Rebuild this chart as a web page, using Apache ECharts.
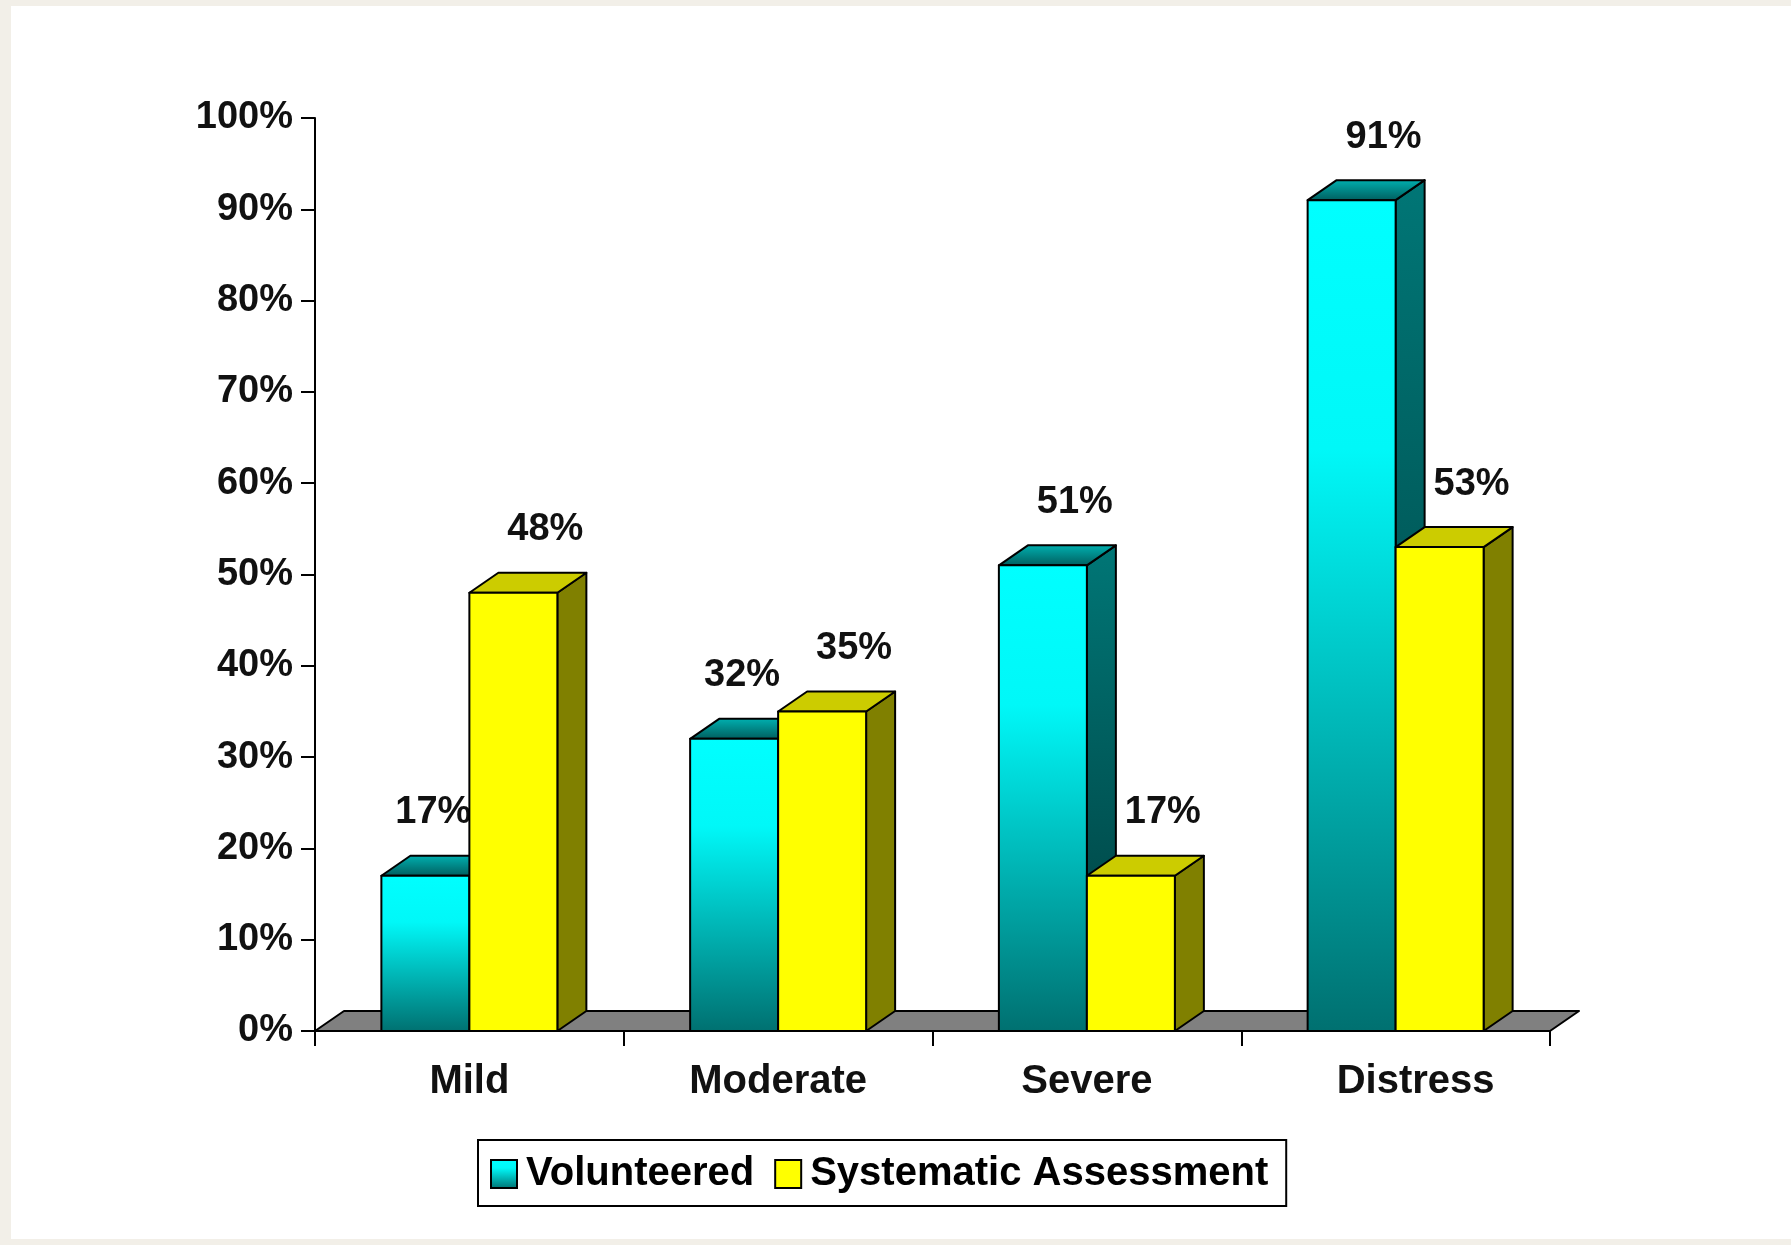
<!DOCTYPE html>
<html>
<head>
<meta charset="utf-8">
<title>Volunteered vs Systematic Assessment</title>
<script src="https://cdn.jsdelivr.net/npm/echarts@6/dist/echarts.min.js"></script>
<style>
  html, body { margin: 0; padding: 0; background: #f2efe8; }
  #chart { width: 1791px; height: 1245px; }
</style>
</head>
<body>
<div id="chart"></div>
<script>
// Symptom categories and the share of patients in each, by reporting method
const categories = ['Mild', 'Moderate', 'Severe', 'Distress'];
const volunteered = [17, 32, 51, 91];
const systematic = [48, 35, 17, 53];
const seriesNames = ['Volunteered', 'Systematic Assessment'];

// 3D bar geometry (pixels / fraction of category band)
const BAR_RATIO = 0.285;
const DX = 29;
const DY = 20;
const FONT = '"Liberation Sans", Arial, sans-serif';

const grad = (stops) => new echarts.graphic.LinearGradient(0, 0, 0, 1,
  stops.map((c) => ({ offset: c[0], color: c[1] })));

const palettes = [
  {
    front: () => grad([[0, '#00ffff'], [0.3, '#00f8f8'], [1, '#007070']]),
    top: () => grad([[0, '#00b2b2'], [1, '#005c5c']]),
    side: () => grad([[0, '#007676'], [1, '#003c3c']])
  },
  {
    front: () => '#ffff00',
    top: () => '#cccc00',
    side: () => '#808000'
  }
];

const EDGE = { stroke: '#000', lineWidth: 2, lineJoin: 'round' };

function barRenderer(slot, ownValues, otherValues) {
  const pal = palettes[slot];
  return function (params, api) {
    const idx = api.value(0);
    const val = api.value(1);
    const base = api.coord([idx, 0]);
    const tip = api.coord([idx, val]);
    const band = api.size([1, 0])[0];
    const w = band * BAR_RATIO;
    const x0 = slot === 0 ? base[0] - w : base[0];
    const x1 = x0 + w;
    const yb = base[1];
    const yt = tip[1];

    // value label sits above the top face; slides left when the neighbouring bar is taller
    let lx = (x0 + x1) / 2 + 32;
    if (slot === 0 && otherValues[idx] > ownValues[idx]) lx = x1 - 36;
    const ly = yt - DY - 43;

    return {
      type: 'group',
      children: [
        {
          type: 'polygon',
          shape: { points: [[x1, yt], [x1 + DX, yt - DY], [x1 + DX, yb - DY], [x1, yb]] },
          style: Object.assign({ fill: pal.side() }, EDGE)
        },
        {
          type: 'polygon',
          shape: { points: [[x0, yt], [x0 + DX, yt - DY], [x1 + DX, yt - DY], [x1, yt]] },
          style: Object.assign({ fill: pal.top() }, EDGE)
        },
        {
          type: 'rect',
          shape: { x: x0, y: yt, width: w, height: yb - yt },
          style: Object.assign({ fill: pal.front() }, EDGE)
        },
        {
          type: 'text',
          z2: 50,
          style: {
            text: val + '%',
            x: lx,
            y: ly,
            align: 'center',
            verticalAlign: 'middle',
            fill: '#111',
            font: 'bold 38px ' + FONT
          }
        }
      ]
    };
  };
}

// grey floor under the bars, spanning the whole category axis
function floorRenderer(params, api) {
  const cs = params.coordSys;
  const yb = cs.y + cs.height;
  const xl = cs.x;
  const xr = cs.x + cs.width;
  return {
    type: 'polygon',
    shape: { points: [[xl, yb], [xl + DX, yb - DY], [xr + DX, yb - DY], [xr, yb]] },
    style: Object.assign({ fill: '#808080' }, EDGE)
  };
}

// the last category name sits a little right of its band centre
const categoryData = categories.map((name, i) =>
  i === categories.length - 1 ? { value: name, textStyle: { padding: [0, 0, 0, 40] } } : name);

const chart = echarts.init(document.getElementById('chart'), null, { renderer: 'canvas' });

chart.setOption({
  animation: false,
  backgroundColor: '#f2efe8',
  graphic: [{
    type: 'rect',
    z: -10,
    silent: true,
    shape: { x: 11, y: 6, width: 1780, height: 1233 },
    style: { fill: '#ffffff' }
  }],
  grid: { left: 315, right: 241, top: 118, bottom: 214 },
  legend: {
    data: seriesNames,
    left: 478,
    top: 1140,
    orient: 'horizontal',
    backgroundColor: '#ffffff',
    borderColor: '#000',
    borderWidth: 2,
    borderRadius: 0,
    padding: [14, 18, 12, 12],
    itemGap: 20,
    itemWidth: 26,
    itemHeight: 28,
    icon: 'rect',
    itemStyle: { borderColor: '#000', borderWidth: 2 },
    textStyle: { fontSize: 40, fontWeight: 'bold', color: '#000', fontFamily: FONT, padding: [0, 0, 0, 4] }
  },
  xAxis: {
    type: 'category',
    data: categoryData,
    boundaryGap: true,
    axisLine: { show: true, lineStyle: { color: '#000', width: 2 } },
    axisTick: { show: true, alignWithLabel: false, length: 15, lineStyle: { color: '#000', width: 2 } },
    axisLabel: { margin: 31, fontSize: 40, fontWeight: 'bold', color: '#111', fontFamily: FONT },
    splitLine: { show: false }
  },
  yAxis: {
    type: 'value',
    min: 0,
    max: 100,
    interval: 10,
    axisLine: { show: true, lineStyle: { color: '#000', width: 2 } },
    axisTick: { show: true, length: 14, lineStyle: { color: '#000', width: 2 } },
    axisLabel: { margin: 22, formatter: '{value}%', fontSize: 38, fontWeight: 'bold', color: '#111', fontFamily: FONT },
    splitLine: { show: false }
  },
  series: [
    {
      name: 'floor',
      type: 'custom',
      z: 1,
      silent: true,
      renderItem: floorRenderer,
      data: [[0, 0]],
      encode: { x: 0, y: 1 }
    },
    {
      name: seriesNames[0],
      type: 'custom',
      z: 2,
      itemStyle: { color: grad([[0, '#00ffff'], [0.3, '#00f8f8'], [1, '#007070']]) },
      renderItem: barRenderer(0, volunteered, systematic),
      data: volunteered.map((v, i) => [i, v]),
      encode: { x: 0, y: 1 }
    },
    {
      name: seriesNames[1],
      type: 'custom',
      z: 3,
      itemStyle: { color: '#ffff00' },
      renderItem: barRenderer(1, systematic, volunteered),
      data: systematic.map((v, i) => [i, v]),
      encode: { x: 0, y: 1 }
    }
  ]
});
</script>
</body>
</html>
